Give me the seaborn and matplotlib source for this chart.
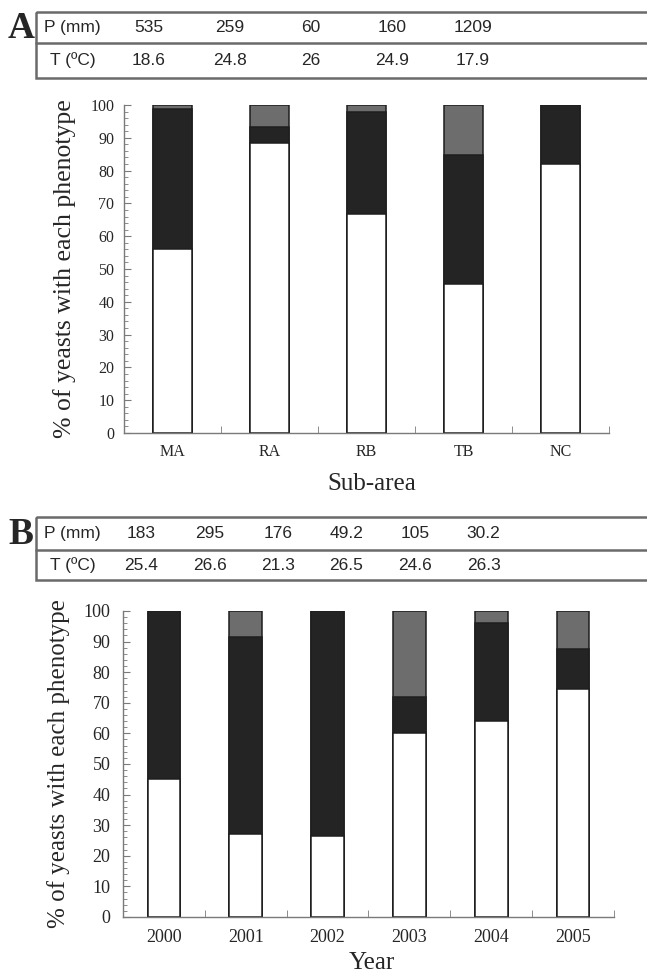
import matplotlib
matplotlib.use('Agg')
import matplotlib.pyplot as plt
import seaborn as sns
import pandas as pd
from matplotlib.patches import Rectangle
from matplotlib.ticker import MultipleLocator, FixedLocator

sns.set_style('white')
plt.rcParams['font.family'] = ['Liberation Serif', 'DejaVu Serif']

# Panel A - sub-areas
areas = ['MA', 'RA', 'RB', 'TB', 'NC']
precip_a = ['535', '259', '60', '160', '1209']
temp_a = ['18.6', '24.8', '26', '24.9', '17.9']
white_a = [56.0, 88.5, 66.7, 45.3, 82.0]
dark_a = [42.8, 4.9, 31.2, 39.3, 18.0]
gray_a = [1.2, 6.6, 2.1, 15.4, 0.0]

# Panel B - years
years = ['2000', '2001', '2002', '2003', '2004', '2005']
precip_b = ['183', '295', '176', '49.2', '105', '30.2']
temp_b = ['25.4', '26.6', '21.3', '26.5', '24.6', '26.3']
white_b = [45.0, 27.0, 26.4, 60.0, 64.0, 74.6]
dark_b = [55.0, 64.4, 73.6, 11.8, 32.0, 12.9]
gray_b = [0.0, 8.6, 0.0, 28.2, 4.0, 12.5]

FILL = {'white': 'white', 'dark': '#242424', 'gray': '#6d6d6d'}
EDGE = '#1e1e1e'
AXIS = '#7a7a7a'
TABLE_FONT = ['Liberation Sans', 'DejaVu Sans']
TABLE_SIZE = 12.5


def stacked_bars(ax, cats, white, dark, gray, width):
    df = pd.DataFrame({'cat': cats, 'white': white, 'dark': dark, 'gray': gray})
    df['top_dark'] = df['white'] + df['dark']
    df['top_gray'] = df['top_dark'] + df['gray']
    for col, key in [('top_gray', 'gray'), ('top_dark', 'dark'), ('white', 'white')]:
        sns.barplot(data=df, x='cat', y=col, order=cats, color=FILL[key],
                    saturation=1, width=width, edgecolor=EDGE, linewidth=1.1,
                    errorbar=None, ax=ax)


def style_axis(ax, n, tick_size, pad_x, pad_y):
    ax.set_xlim(-0.5, n - 0.5)
    ax.set_ylim(0, 100)
    sns.despine(ax=ax)
    for s in ['left', 'bottom']:
        ax.spines[s].set_color(AXIS)
        ax.spines[s].set_linewidth(1.0)
    ax.yaxis.set_major_locator(MultipleLocator(10))
    ax.yaxis.set_minor_locator(MultipleLocator(2))
    ax.xaxis.set_minor_locator(FixedLocator([i + 0.5 for i in range(n)]))
    ax.tick_params(axis='y', which='both', direction='in', color=AXIS, left=True)
    ax.tick_params(axis='y', which='major', length=5, labelsize=tick_size, pad=pad_y)
    ax.tick_params(axis='y', which='minor', length=3)
    ax.tick_params(axis='x', which='major', length=0, labelsize=tick_size, pad=pad_x)
    ax.tick_params(axis='x', which='minor', direction='in', length=5,
                   color=AXIS, bottom=True)


def draw_table(ov, letter, top, mid, bottom, first_x, step, precip, temp):
    ov.add_patch(Rectangle((36, top), 700, bottom - top, fill=False,
                           ec='#6a6a6a', lw=1.8))
    ov.plot([36, 700], [mid, mid], color='#6a6a6a', lw=1.8)
    r1 = (top + mid) / 2
    r2 = (mid + bottom) / 2
    ov.text(72, r1, 'P (mm)', family=TABLE_FONT, fontsize=TABLE_SIZE,
            ha='center', va='center')
    ov.text(73, r2, 'T (ºC)', family=TABLE_FONT, fontsize=TABLE_SIZE,
            ha='center', va='center')
    for i, (p, t) in enumerate(zip(precip, temp)):
        ov.text(first_x + i * step, r1, p, family=TABLE_FONT, fontsize=TABLE_SIZE,
                ha='center', va='center')
        ov.text(first_x + i * step, r2, t, family=TABLE_FONT, fontsize=TABLE_SIZE,
                ha='center', va='center')
    ov.text(21, (top + mid) / 2 + 1, letter, fontsize=27, weight='bold',
            ha='center', va='center')


fig = plt.figure(figsize=(6.47, 9.73), dpi=100)

ax_a = fig.add_axes([0.1917, 0.555, 0.7496, 0.3371])
stacked_bars(ax_a, areas, white_a, dark_a, gray_a, 0.41)
style_axis(ax_a, len(areas), 11.5, 8, 7)
ax_a.set_xlabel('Sub-area', fontsize=18)
ax_a.set_ylabel('% of yeasts with each phenotype', fontsize=18.5)
ax_a.xaxis.set_label_coords(0.51, -0.155)
ax_a.xaxis.label.set_va('center')
ax_a.yaxis.set_label_coords(-0.122, 0.5)
ax_a.yaxis.label.set_va('center')

ax_b = fig.add_axes([0.1901, 0.0576, 0.7589, 0.3145])
stacked_bars(ax_b, years, white_b, dark_b, gray_b, 0.40)
style_axis(ax_b, len(years), 13, 9, 9)
ax_b.set_xlabel('Year', fontsize=18)
ax_b.set_ylabel('% of yeasts with each phenotype', fontsize=18)
ax_b.xaxis.set_label_coords(0.507, -0.150)
ax_b.xaxis.label.set_va('center')
ax_b.yaxis.set_label_coords(-0.132, 0.5)
ax_b.yaxis.label.set_va('center')

# overlay in pixel coordinates for the climate tables
ov = fig.add_axes([0, 0, 1, 1])
ov.set_xlim(0, 647)
ov.set_ylim(973, 0)
ov.axis('off')
draw_table(ov, 'A', 12, 43, 78, 149, 81, precip_a, temp_a)
draw_table(ov, 'B', 517, 550, 580, 141, 68.5, precip_b, temp_b)

fig.savefig('out.png', dpi=100)
